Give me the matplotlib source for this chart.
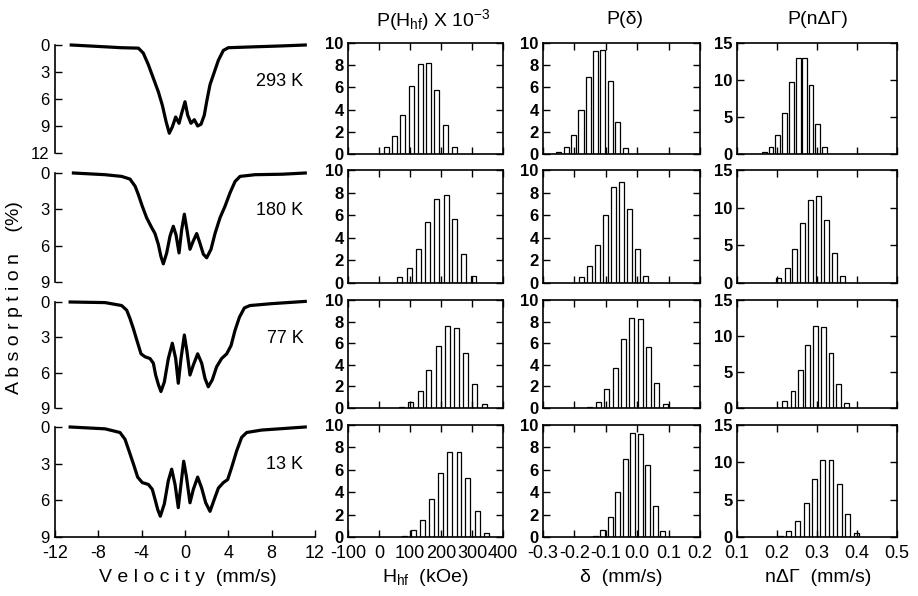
import matplotlib
matplotlib.use('Agg')
import matplotlib.pyplot as plt

plt.rcParams['font.family'] = ['Liberation Sans', 'DejaVu Sans']
plt.rcParams['mathtext.fontset'] = 'custom'
plt.rcParams['mathtext.rm'] = 'Liberation Sans'
plt.rcParams['mathtext.it'] = 'Liberation Sans:italic'
plt.rcParams['axes.unicode_minus'] = False

# temperatures (one row each)
temps = ['293 K', '180 K', '77 K', '13 K']

# Mossbauer spectra: velocity (mm/s), absorption (%)
v_293 = [-10.5, -7.4, -5.9, -4.3, -3.85, -3.38, -2.92, -2.46, -2.09, -1.75, -1.45,
         -1.17, -0.86, -0.55, -0.31, 0.0, 0.25, 0.55, 0.86, 1.17, 1.48, 1.78, 2.0,
         2.31, 2.71, 3.08, 3.54, 4.0, 6.46, 9.0, 11.1]
a_293 = [0.0, 0.2, 0.3, 0.35, 0.9, 2.2, 3.7, 5.2, 6.7, 8.5, 9.8,
         9.1, 8.0, 8.7, 7.6, 6.3, 7.8, 8.7, 8.3, 9.0, 8.8, 7.8, 6.3,
         4.4, 3.0, 1.7, 0.6, 0.3, 0.2, 0.1, 0.0]

v_180 = [-10.3, -7.38, -5.85, -5.08, -4.6, -4.3, -3.94, -3.54, -3.08, -2.77, -2.46,
         -2.22, -2.0, -1.69, -1.38, -1.08, -0.83, -0.55, -0.31, -0.06, 0.18, 0.46,
         0.77, 1.08, 1.38, 1.69, 2.0, 2.4, 2.77, 3.23, 3.69, 4.15, 4.62, 5.08, 6.46,
         9.0, 11.1]
a_180 = [0.0, 0.14, 0.28, 0.5, 1.1, 1.8, 2.75, 3.7, 4.5, 5.0, 5.9,
         6.9, 7.5, 6.6, 5.2, 4.4, 5.1, 6.6, 4.7, 3.4, 4.7, 6.3,
         5.6, 5.0, 5.8, 6.7, 7.0, 6.3, 5.0, 3.7, 2.75, 1.65, 0.7, 0.28, 0.14,
         0.1, 0.0]

v_77 = [-10.6, -7.38, -5.85, -5.38, -5.08, -4.77, -4.46, -4.06, -3.69, -3.23, -2.92,
        -2.71, -2.46, -2.22, -1.91, -1.54, -1.17, -0.86, -0.62, -0.37, -0.06, 0.18,
        0.46, 0.77, 1.17, 1.54, 1.85, 2.15, 2.52, 2.92, 3.38, 3.85, 4.25, 4.62, 5.02,
        5.48, 6.0, 8.0, 11.1]
a_77 = [0.0, 0.05, 0.3, 0.7, 1.4, 2.25, 3.2, 4.4, 4.65, 4.8, 5.2,
        6.2, 7.0, 7.6, 6.8, 4.8, 3.5, 4.8, 6.9, 4.8, 2.8, 4.2,
        6.2, 5.35, 4.4, 5.2, 6.5, 7.2, 6.6, 5.5, 4.8, 4.4, 3.7, 2.4, 1.3,
        0.5, 0.3, 0.14, -0.05]

v_13 = [-10.6, -7.38, -6.0, -5.54, -5.17, -4.77, -4.37, -3.94, -3.38, -3.02, -2.77,
        -2.52, -2.28, -1.91, -1.54, -1.23, -0.92, -0.62, -0.37, -0.12, 0.12, 0.46,
        0.77, 1.17, 1.54, 1.91, 2.31, 2.71, 3.08, 3.54, 3.94, 4.31, 4.77, 5.23, 5.69,
        7.08, 11.1]
a_13 = [0.0, 0.15, 0.45, 1.0, 1.95, 3.0, 4.1, 4.55, 4.7, 5.1, 5.9,
        6.75, 7.3, 6.3, 4.4, 3.45, 4.7, 6.6, 4.7, 2.8, 4.0, 6.2,
        5.1, 4.1, 5.0, 6.2, 6.9, 5.9, 5.0, 4.55, 4.3, 3.3, 1.95, 0.85, 0.45,
        0.25, 0.0]

spec_v = [v_293, v_180, v_77, v_13]
spec_a = [a_293, a_180, a_77, a_13]
spec_ymax = [12, 9, 9, 9]

# P(Hhf) distributions (kOe)
hhf_x = [[24, 51, 77, 106, 134, 160, 187, 215, 244],
         [67, 97, 126, 156, 187, 217, 245, 274, 305],
         [72, 103, 133, 161, 191, 220, 249, 278, 309, 339],
         [83, 110, 140, 169, 198, 228, 258, 287, 317, 346]]
hhf_y = [[0.6, 1.6, 3.5, 6.1, 8.1, 8.2, 5.8, 2.6, 0.6],
         [0.5, 1.3, 3.0, 5.4, 7.4, 7.75, 5.7, 2.6, 0.6],
         [0.1, 0.6, 1.6, 3.5, 5.75, 7.6, 7.45, 5.1, 2.2, 0.4],
         [0.1, 0.65, 1.55, 3.35, 5.75, 7.6, 7.6, 5.3, 2.3, 0.4]]

# P(delta) distributions (mm/s)
delta_x = [[-0.250, -0.224, -0.203, -0.179, -0.155, -0.134, -0.109, -0.086, -0.063, -0.038],
           [-0.178, -0.152, -0.126, -0.101, -0.075, -0.050, -0.025, 0.001, 0.027],
           [-0.152, -0.123, -0.097, -0.070, -0.044, -0.017, 0.009, 0.036, 0.062, 0.089],
           [-0.134, -0.109, -0.086, -0.063, -0.037, -0.014, 0.009, 0.033, 0.058, 0.081]]
delta_y = [[0.2, 0.6, 1.75, 4.0, 6.9, 9.25, 9.35, 6.6, 2.9, 0.55],
           [0.5, 1.5, 3.35, 6.0, 8.5, 8.9, 6.55, 3.05, 0.6],
           [0.1, 0.6, 1.75, 3.7, 6.35, 8.35, 8.2, 5.65, 2.35, 0.4],
           [0.1, 0.65, 1.8, 4.0, 6.95, 9.3, 9.2, 6.45, 2.8, 0.5]]

# P(n dGamma) distributions (mm/s)
gam_x = [[0.168, 0.185, 0.202, 0.219, 0.236, 0.253, 0.269, 0.285, 0.302, 0.319],
         [0.204, 0.227, 0.244, 0.264, 0.283, 0.303, 0.323, 0.343, 0.363],
         [0.219, 0.240, 0.258, 0.277, 0.297, 0.317, 0.335, 0.354, 0.373],
         [0.208, 0.229, 0.252, 0.273, 0.293, 0.314, 0.335, 0.356, 0.377, 0.398]]
gam_y = [[0.3, 1.0, 2.6, 5.6, 9.7, 13.0, 13.0, 9.3, 4.1, 1.0],
         [0.7, 2.0, 4.5, 7.9, 11.0, 11.5, 8.4, 4.0, 0.9],
         [1.0, 2.4, 5.3, 8.8, 11.4, 11.2, 7.6, 3.3, 0.7],
         [0.2, 0.8, 2.1, 4.5, 7.8, 10.3, 10.3, 7.1, 3.1, 0.5]]

W, H = 918, 596


def px_box(left, top, right, bottom):
    return [left / W, 1 - bottom / H, (right - left) / W, (bottom - top) / H]


fig = plt.figure(figsize=(W / 100, H / 100), dpi=100)

# spectra column
spec_rows = [(45, 153), (173, 282), (302, 408), (427, 537)]
for i, (top, bot) in enumerate(spec_rows):
    ax = fig.add_axes(px_box(55, top, 315, bot))
    ax.plot(spec_v[i], spec_a[i], '-', color='black', lw=2.3, clip_on=False,
            solid_joinstyle='round')
    ax.set_xlim(-12, 12)
    ax.set_ylim(spec_ymax[i], 0)
    ax.set_yticks(range(0, spec_ymax[i] + 1, 3))
    ax.spines['top'].set_visible(False)
    ax.spines['right'].set_visible(False)
    ax.tick_params(direction='in', length=5, width=1, labelsize=12, pad=4)
    ax.text(0.955, 0.66, temps[i], transform=ax.transAxes,
            ha='right', va='center', fontsize=13)
    if i < 3:
        ax.spines['bottom'].set_visible(False)
        ax.set_xticks([])
    else:
        ax.set_xticks(range(-12, 13, 4))
        ax.tick_params(axis='x', pad=6, labelsize=13)
    for s in ax.spines.values():
        s.set_linewidth(1.2)

# histogram columns
hist_rows = [(43, 154), (170, 283), (300, 408), (425, 537)]
hist_cols = [(348, 503), (543, 700), (737, 897)]
col_x = [hhf_x, delta_x, gam_x]
col_y = [hhf_y, delta_y, gam_y]
col_xlim = [(-100, 400), (-0.3, 0.2), (0.1, 0.5)]
col_xticks = [[-100, 0, 100, 200, 300, 400],
              [-0.3, -0.2, -0.1, 0.0, 0.1, 0.2],
              [0.1, 0.2, 0.3, 0.4, 0.5]]
col_ylim = [10, 10, 15]
col_yticks = [[0, 2, 4, 6, 8, 10], [0, 2, 4, 6, 8, 10], [0, 5, 10, 15]]
col_width = [16, 0.016, 0.012]

for c, (xl, xr) in enumerate(hist_cols):
    for r, (top, bot) in enumerate(hist_rows):
        ax = fig.add_axes(px_box(xl, top, xr, bot))
        ax.bar(col_x[c][r], col_y[c][r], width=col_width[c], color='white',
               edgecolor='black', linewidth=0.9)
        ax.set_xlim(*col_xlim[c])
        ax.set_ylim(0, col_ylim[c])
        ax.set_xticks(col_xticks[c])
        ax.set_yticks(col_yticks[c])
        ax.tick_params(direction='in', top=True, right=True, length=5, width=1,
                       labelsize=12, pad=3)
        for lab in ax.get_yticklabels():
            lab.set_fontweight('bold')
        if c == 1:
            ax.set_xticklabels(['-0.3', '-0.2', '-0.1', '0.0', '0.1', '0.2'])
        elif c == 2:
            ax.set_xticklabels(['0.1', '0.2', '0.3', '0.4', '0.5'])
        if r < 3:
            ax.tick_params(labelbottom=False)
        else:
            ax.tick_params(axis='x', pad=6, labelsize=13)
        for s in ax.spines.values():
            s.set_linewidth(1.2)

# titles and axis labels
fig.text(433 / W, 1 - 20 / H, r'P(H$_{\rm hf}$) X 10$^{-3}$', ha='center', va='center', fontsize=14)
fig.text(625 / W, 1 - 20 / H, 'P(δ)', ha='center', va='center', fontsize=14)
fig.text(818 / W, 1 - 20 / H, 'P(nΔΓ)', ha='center', va='center', fontsize=14)

fig.text(188 / W, 1 - 578 / H, 'V e l o c i t y  (mm/s)', ha='center', va='center', fontsize=14)
fig.text(425 / W, 1 - 578 / H, r'H$_{\rm hf}$  (kOe)', ha='center', va='center', fontsize=14)
fig.text(621 / W, 1 - 578 / H, 'δ  (mm/s)', ha='center', va='center', fontsize=14)
fig.text(818 / W, 1 - 578 / H, 'nΔΓ  (mm/s)', ha='center', va='center', fontsize=14)
fig.text(15 / W, 1 - 298 / H, 'A b s o r p t i o n    (%)', ha='center', va='center',
         rotation=90, fontsize=14)

fig.savefig('out.png', dpi=100)
